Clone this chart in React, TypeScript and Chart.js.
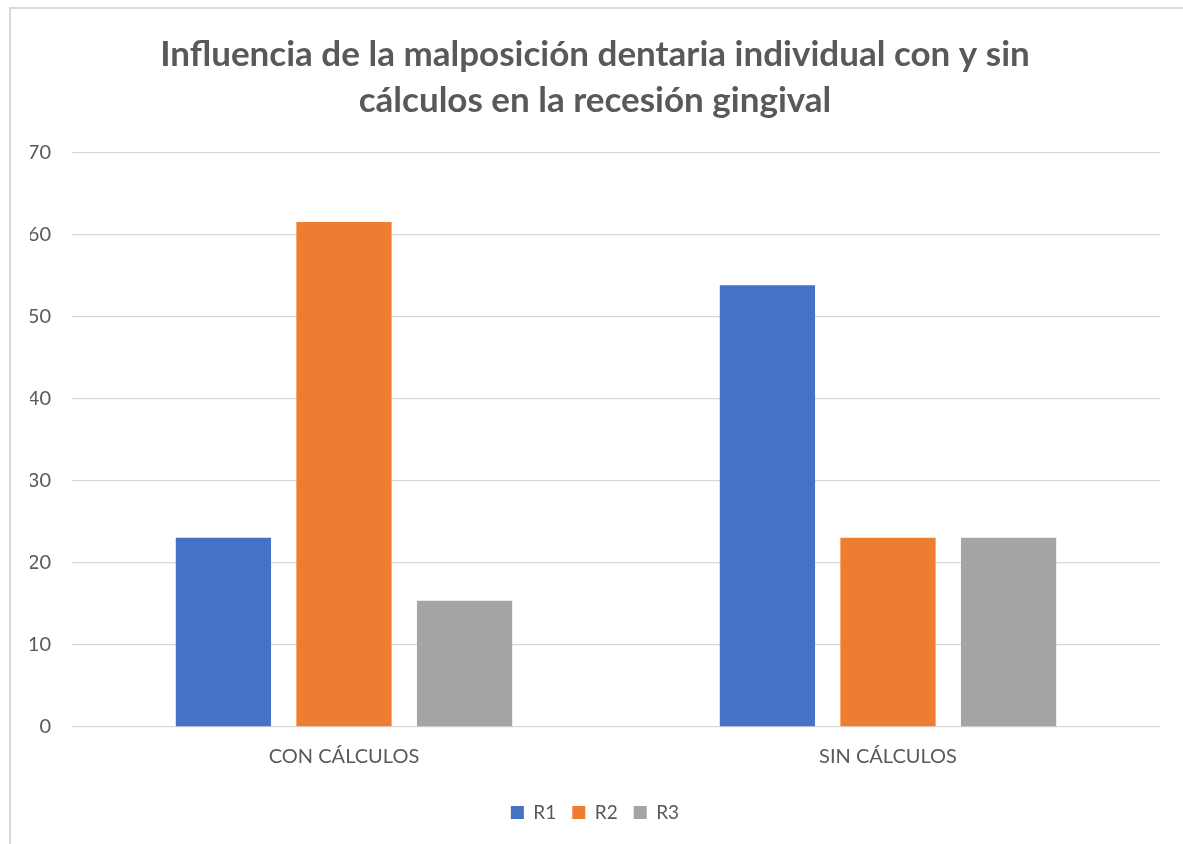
import React, { useEffect, useRef } from "react";
import { Chart, registerables } from "chart.js";

Chart.register(...registerables);

const categories = ["CON CÁLCULOS", "SIN CÁLCULOS"];
const seriesNames = ["R1", "R2", "R3"];
const r1Values = [23.08, 53.85];
const r2Values = [61.54, 23.08];
const r3Values = [15.38, 23.08];
const seriesColors = ["#4472C4", "#ED7D31", "#A5A5A5"];
const titleLines = [
  "Influencia de la malposición dentaria individual con y sin",
  "cálculos en la recesión gingival",
];
const yMin = 0;
const yMax = 70;
const yStep = 10;

const FONT = "Lato, 'Open Sans', 'Liberation Sans', sans-serif";

export default function App() {
  const ref = useRef<HTMLCanvasElement | null>(null);

  useEffect(() => {
    document.body.style.margin = "0";
    const ctx = ref.current;
    if (!ctx) return;
    const allValues = [r1Values, r2Values, r3Values];
    const chart = new Chart(ctx, {
      type: "bar",
      data: {
        labels: categories,
        datasets: seriesNames.map((name, i) => ({
          label: name,
          data: allValues[i],
          backgroundColor: seriesColors[i],
          borderWidth: 0,
          barPercentage: 0.79,
          categoryPercentage: 0.665,
        })),
      },
      options: {
        animation: false,
        responsive: false,
        maintainAspectRatio: false,
        layout: { padding: { left: 30, right: 23, top: 32, bottom: 12 } },
        plugins: {
          tooltip: { enabled: false },
          title: {
            display: true,
            text: titleLines,
            color: "#595959",
            font: { family: FONT, size: 35, weight: "bold", lineHeight: 1.31 },
            padding: { top: 0, bottom: 29 },
          },
          legend: {
            position: "bottom",
            labels: {
              color: "#595959",
              font: { family: FONT, size: 19 },
              boxWidth: 13,
              boxHeight: 13,
              padding: 16,
            },
          },
        },
        scales: {
          x: {
            grid: { display: false, drawTicks: false },
            border: { display: false },
            ticks: {
              color: "#595959",
              font: { family: FONT, size: 20 },
              padding: 18,
            },
          },
          y: {
            min: yMin,
            max: yMax,
            afterFit: (scale: any) => {
              scale.width = 42;
            },
            grid: { color: "#D9D9D9", lineWidth: 1.3, drawTicks: false },
            border: { display: false },
            ticks: {
              stepSize: yStep,
              color: "#595959",
              font: { family: FONT, size: 20 },
              padding: 21,
            },
          },
        },
      },
    });
    return () => chart.destroy();
  }, []);

  return (
    <div style={{ position: "fixed", left: 0, top: 0, width: 1183, height: 844, background: "#fff", overflow: "hidden" }}>
      <div
        style={{
          position: "absolute",
          left: 9,
          top: 7,
          width: 1300,
          height: 1000,
          borderLeft: "2px solid #D9D9D9",
          borderTop: "2px solid #D9D9D9",
        }}
      />
      <canvas ref={ref} width={1183} height={844} style={{ position: "absolute", left: 0, top: 0 }} />
    </div>
  );
}
